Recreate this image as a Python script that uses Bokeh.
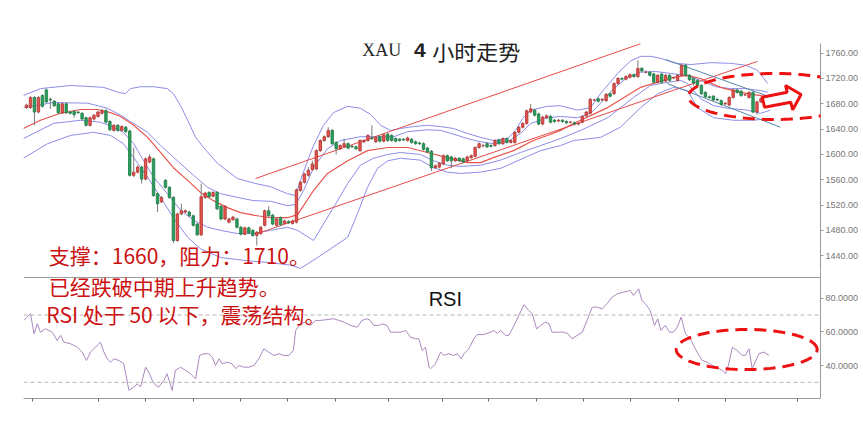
import numpy as np
from bokeh.plotting import figure
from bokeh.layouts import column
from bokeh.models import (Range1d, FixedTicker, NumeralTickFormatter,
                          Label, PolyAnnotation, Span, ColumnDataSource)
from bokeh.embed import file_html
from bokeh.resources import INLINE

# ---------------- data ----------------
opens = [1674,1674,1690,1667,1693,1702,1687,1684,1680,1666,
         1680,1667,1668,1667,1665,1658,1646,1656,1660,1665,
         1669,1652,1638,1646,1638,1643,1637,1567,1572,1580,
         1561,1588,1593,1538,1525,1559,1548,1532,1464,1506,
         1509,1509,1503,1490,1473,1532,1540,1534,1540,1518,
         1498,1493,1497,1498,1485,1474,1484,1480,1472,1475,
         1488,1511,1504,1488,1500,1491,1494,1491,1493,1543,
         1556,1567,1576,1577,1606,1622,1628,1638,1619,1609,
         1612,1617,1613,1612,1606,1620,1622,1626,1620,1628,
         1621,1632,1630,1625,1624,1624,1622,1624,1620,1618,
         1617,1610,1605,1579,1580,1585,1598,1596,1590,1594,
         1593,1590,1595,1597,1611,1614,1617,1614,1614,1623,
         1617,1625,1619,1619,1635,1643,1649,1667,1670,1664,
         1648,1658,1660,1654,1653,1654,1652,1651,1650,1648,
         1651,1661,1665,1686,1688,1686,1685,1696,1696,1712,
         1720,1719,1722,1726,1723,1736,1730,1730,1727,1714,
         1727,1716,1725,1721,1717,1725,1741,1725,1720,1717,
         1709,1698,1691,1692,1687,1685,1680,1678,1690,1702,
         1700,1694,1690,1698,1667,1683,1691]
closes = [1678,1690,1667,1690,1676,1683,1686,1677,1666,1680,
          1666,1665,1663,1666,1656,1646,1658,1662,1667,1669,
          1651,1639,1646,1638,1644,1636,1567,1572,1580,1561,
          1593,1596,1535,1522,1532,1548,1532,1464,1506,1511,
          1511,1503,1488,1473,1533,1539,1533,1540,1514,1498,
          1518,1498,1501,1485,1474,1484,1476,1472,1477,1485,
          1511,1503,1490,1498,1489,1495,1492,1495,1544,1556,
          1569,1575,1585,1606,1622,1628,1638,1617,1609,1614,
          1617,1610,1612,1609,1622,1622,1630,1625,1627,1621,
          1631,1622,1622,1621,1622,1623,1626,1619,1617,1617,
          1608,1604,1579,1582,1586,1598,1590,1590,1594,1590,
          1588,1596,1598,1611,1617,1614,1612,1613,1622,1617,
          1625,1619,1622,1635,1643,1649,1669,1672,1662,1648,
          1659,1661,1651,1652,1654,1652,1650,1651,1648,1649,
          1660,1667,1687,1686,1684,1687,1695,1692,1712,1720,
          1719,1723,1726,1723,1736,1732,1730,1725,1714,1725,
          1714,1725,1717,1721,1725,1741,1725,1718,1713,1709,
          1696,1691,1690,1686,1686,1679,1681,1690,1702,1698,
          1693,1694,1698,1667,1683,1688,1685]
highs = [1680,1692,1692,1692,1695,1704,1690,1686,1682,1682,
         1682,1669,1670,1668,1667,1660,1660,1664,1669,1672,
         1672,1654,1648,1648,1646,1645,1639,1611,1583,1582,
         1595,1600,1595,1540,1534,1561,1550,1534,1508,1522,
         1513,1511,1505,1492,1554,1541,1542,1542,1542,1520,
         1520,1500,1503,1500,1487,1486,1486,1482,1479,1487,
         1513,1518,1506,1500,1502,1497,1496,1497,1546,1558,
         1571,1580,1590,1608,1624,1630,1643,1640,1621,1616,
         1625,1619,1615,1614,1624,1624,1632,1646,1629,1630,
         1633,1634,1632,1627,1626,1626,1628,1626,1622,1620,
         1619,1612,1607,1584,1588,1600,1600,1598,1596,1596,
         1595,1598,1600,1613,1619,1617,1619,1616,1624,1625,
         1627,1627,1624,1637,1645,1651,1671,1680,1672,1666,
         1661,1663,1662,1656,1656,1656,1654,1653,1652,1651,
         1662,1669,1689,1688,1690,1689,1697,1698,1714,1722,
         1722,1725,1728,1728,1749,1738,1733,1732,1729,1727,
         1729,1727,1727,1723,1727,1743,1743,1727,1722,1719,
         1711,1700,1693,1694,1689,1687,1683,1692,1704,1704,
         1702,1696,1700,1700,1685,1690,1693]
lows = [1672,1672,1646,1665,1674,1681,1672,1675,1664,1664,
        1664,1663,1658,1664,1654,1644,1644,1654,1658,1663,
        1649,1637,1636,1636,1636,1634,1565,1564,1570,1554,
        1559,1586,1533,1509,1523,1546,1530,1460,1462,1504,
        1507,1501,1486,1471,1471,1530,1531,1532,1512,1496,
        1496,1491,1495,1483,1472,1472,1474,1470,1456,1473,
        1486,1501,1488,1486,1487,1489,1490,1489,1491,1541,
        1554,1565,1574,1575,1604,1620,1626,1615,1600,1607,
        1610,1608,1610,1607,1604,1618,1620,1623,1618,1619,
        1619,1620,1620,1619,1620,1621,1620,1617,1615,1615,
        1606,1602,1574,1577,1578,1583,1588,1578,1588,1588,
        1586,1588,1593,1595,1609,1611,1610,1611,1612,1615,
        1615,1617,1617,1617,1633,1641,1647,1665,1660,1646,
        1646,1656,1649,1650,1651,1650,1648,1649,1646,1646,
        1649,1659,1663,1684,1682,1684,1683,1690,1694,1710,
        1717,1717,1720,1721,1721,1730,1728,1723,1712,1712,
        1712,1714,1715,1719,1715,1723,1723,1716,1709,1707,
        1694,1689,1688,1684,1684,1677,1678,1676,1688,1696,
        1691,1692,1688,1665,1663,1681,1683]

# Bollinger-style bands and moving average, read at sample candles
ou_x = [-0.8,3.5,11.1,19.4,23.2,24.9,26.2,28.7,32.0,35.5,37.0,38.8,40.6,42.6,44.6,48.1,53.1,57.7,61.5,65.7,
        67.8,69.0,70.8,72.3,74.8,77.3,80.9,84.1,86.7,89.2,91.7,94.2,97.5,101.0,104.3,107.6,111.1,114.4,117.6,121.2,
        123.2,125.0,127.0,131.2,134.5,138.8,142.1,144.6,148.9,152.2,154.7,157.2,159.7,163.5,167.3,172.3,177.3,181.1,184.1,186.7]
ou_y = [1693,1704,1709,1706,1698,1696,1704,1707,1707,1704,1696,1677,1654,1627,1611,1586,1562,1554,1549,1538,
        1535,1559,1590,1614,1646,1666,1676,1673,1663,1646,1638,1641,1644,1646,1644,1641,1633,1627,1622,1625,
        1638,1657,1670,1676,1677,1670,1674,1696,1728,1748,1755,1755,1752,1744,1742,1745,1744,1741,1733,1712]
iu_x = [-0.8,6.8,15.4,20.4,23.7,26.2,30.5,33.8,38.0,42.1,45.6,48.9,53.2,57.2,61.5,65.7,67.8,69.8,72.3,75.8,
        79.1,84.1,89.2,92.5,96.0,101.0,104.3,107.6,111.1,114.4,117.6,121.2,124.4,127.0,131.2,134.5,138.8,142.1,144.6,147.9,
        151.4,154.7,158.5,162.2,166.0,169.8,173.6,177.3,181.1,184.9,186.7]
iu_y = [1674,1682,1681,1673,1662,1652,1635,1614,1590,1567,1548,1538,1532,1527,1526,1519,1521,1543,1579,1609,
        1622,1628,1628,1628,1636,1639,1638,1632,1625,1620,1617,1620,1633,1649,1658,1660,1658,1665,1681,1704,
        1722,1730,1731,1728,1725,1717,1707,1704,1704,1701,1698]
ma_x = [-0.8,3.5,8.6,13.6,17.9,21.2,23.7,27.0,30.5,33.8,37.0,40.6,43.8,47.1,50.6,53.9,57.2,61.5,65.7,68.3,
        72.3,75.8,80.9,85.9,91.0,96.0,101.0,106.0,111.1,114.4,117.6,122.7,127.7,131.2,134.5,137.8,146.4,154.7,163.0,166.5,
        169.8,174.8,179.8,184.9,186.7]
ma_y = [1641,1654,1665,1671,1671,1666,1660,1646,1627,1603,1579,1559,1540,1527,1516,1508,1504,1500,1500,1505,
        1543,1570,1590,1606,1611,1611,1603,1595,1587,1587,1595,1606,1622,1630,1638,1649,1674,1706,1722,1725,
        1720,1706,1698,1693,1690]
il_x = [-0.8,6.8,13.6,18.6,21.9,24.4,27.0,29.5,32.0,35.5,38.8,42.1,45.6,48.9,53.1,57.2,61.5,65.7,68.3,72.3,
        77.3,80.9,84.1,87.4,91.0,94.2,99.2,102.5,106.0,109.3,114.4,119.4,124.4,129.5,134.5,139.6,146.4,152.9,157.2,161.5,
        164.8,166.5,169.8,173.1,176.6,181.6,184.9,187.4]
il_y = [1625,1649,1654,1651,1643,1635,1617,1590,1564,1538,1512,1496,1485,1480,1475,1475,1480,1485,1480,1464,
        1516,1554,1583,1594,1600,1603,1600,1590,1583,1581,1583,1591,1603,1614,1625,1638,1658,1690,1709,1714,
        1717,1712,1688,1677,1673,1670,1665,1670]
ol_x = [-0.8,5.3,11.1,16.9,21.2,24.4,27.0,30.5,33.8,37.0,40.6,43.8,48.9,55.7,61.5,66.5,69.0,73.3,80.9,83.4,
        85.9,88.4,91.0,94.2,99.2,102.5,106.0,109.3,114.4,119.4,122.7,126.2,129.5,134.5,137.8,144.6,149.6,154.7,159.0,163.0,
        166.5,169.0,173.1,178.1,183.1,187.4]
ol_y = [1594,1617,1630,1635,1630,1617,1595,1564,1532,1500,1469,1451,1437,1432,1429,1425,1420,1437,1469,1507,
        1548,1578,1590,1594,1591,1579,1572,1570,1572,1578,1587,1597,1606,1614,1622,1627,1643,1674,1696,1706,
        1701,1674,1658,1654,1654,1657]

# trend lines (endpoints: candle index, price)
trend_up_x = [57.7, 154.7];  trend_up_y = [1562, 1775]
trend_dn_x = [58.2, 184.1];  trend_dn_y = [1475, 1747]
chan_up_x = [161.0, 189.9];  chan_up_y = [1750, 1685]
chan_dn_x = [161.4, 189.9];  chan_dn_y = [1712, 1643]

price_ticks = [1440, 1480, 1520, 1560, 1600, 1640, 1680, 1720, 1760]

# RSI read at sample positions
rsi_x = [-0.7,1.0,1.9,2.7,3.5,4.8,6.5,7.7,8.6,9.4,11.1,12.8,14.0,15.1,16.1,17.4,18.6,19.5,20.3,21.2,
         22.0,23.3,24.5,25.8,27.0,27.9,28.7,30.0,30.8,31.7,32.5,33.3,34.6,35.4,36.7,37.5,38.8,40.1,41.3,42.6,
         43.6,44.7,45.9,46.8,47.6,48.5,49.3,50.6,51.8,52.7,53.5,54.8,56.0,57.3,58.5,59.8,61.0,62.3,63.6,64.8,
         66.1,67.2,67.8,69.0,70.3,71.5,72.8,74.1,77.4,78.7,80.0,81.6,83.3,84.5,85.8,86.6,87.5,88.7,89.6,90.8,
         91.7,92.9,94.2,95.5,96.7,98.0,98.8,99.7,100.5,101.4,101.8,103.0,104.3,105.1,106.4,107.6,108.5,109.5,110.2,111.4,
         112.7,113.5,115.2,116.9,117.7,118.6,119.4,120.7,121.5,122.8,124.0,125.3,126.5,127.4,128.5,129.5,130.7,131.6,132.4,133.7,
         135.3,136.4,137.4,138.7,140.0,141.2,142.5,143.7,145.0,146.2,147.5,148.8,150.4,152.1,152.9,154.2,155.0,155.9,157.1,158.2,
         159.0,159.8,160.9,162.0,163.0,163.9,164.9,166.0,167.2,168.9,170.2,171.5,172.7,174.0,175.2,176.1,176.9,177.8,179.0,180.3,
         181.1,182.0,182.8,183.7,184.5,185.7,187.0]
rsi_v = [66.8,70.7,58.8,64.8,59.8,61.8,59.8,54.9,57.9,53.9,52.9,50.9,48.0,43.0,48.0,50.9,53.9,48.0,44.0,42.0,
         44.0,43.0,41.0,25.2,27.2,29.1,27.2,39.0,36.1,31.1,28.2,27.2,31.1,35.1,25.2,37.1,39.0,37.1,35.1,32.1,
         46.0,47.0,47.0,45.0,40.0,44.0,41.0,42.0,41.0,38.1,40.0,39.0,39.0,40.0,44.0,49.9,48.0,46.0,47.0,46.0,
         46.0,48.9,60.8,64.8,65.8,63.8,66.8,66.8,67.8,66.8,65.8,63.8,62.8,66.8,67.8,66.8,63.8,63.8,64.8,63.8,
         59.8,59.8,59.8,60.8,56.9,55.9,55.9,48.9,50.9,39.0,38.1,41.0,48.0,46.0,47.0,46.0,47.0,44.0,47.0,49.9,
         55.9,58.4,58.4,59.8,60.8,59.2,60.8,57.9,57.9,63.8,69.7,76.1,72.7,70.7,61.8,63.8,65.8,64.8,59.8,59.8,
         59.8,58.8,55.9,57.9,59.8,66.8,74.7,74.7,73.7,76.7,80.6,82.6,83.6,84.6,81.6,85.6,78.6,76.7,72.7,63.8,
         67.8,60.8,63.8,59.8,59.8,62.8,68.7,58.8,55.9,48.0,43.0,42.0,40.0,39.0,37.1,35.1,41.0,50.9,48.9,46.0,
         46.0,49.9,38.1,43.0,47.0,48.0,46.0]
rsi_levels = [30, 70]
rsi_ticks = [40, 60, 80]
rsi_panel_top = 92.3
time_ticks = [1.5, 18.1, 30.0, 42.1, 53.9, 65.8, 77.8, 91.2, 104.8, 116.4,
              128.5, 140.3, 152.1, 164.2, 176.1, 194.2]

# annotation geometry
ell_price = dict(cx=188.4, cy=1691.6, w=43.3, h=72.7)
ell_rsi = dict(cx=181.4, cy=49.5, w=35.5, h=23.8)
arrow_x = [185.3, 191.6, 191.2, 195.1, 193.0, 192.5, 185.9]
arrow_y = [1690.5, 1698.4, 1709.0, 1694.8, 1670.6, 1682.6, 1674.7]

# ---------------- styles ----------------
UP_FILL, UP_LINE = "#e05550", "#b5302c"
DN_FILL, DN_LINE = "#2a9f5c", "#1b7a42"
BAND = "#8c8ce8"
MA = "#e8554d"
TREND = "#e24a4a"
CHAN = "#5a86aa"
TXT_RED = "#cc1111"
ELL_RED = "#ee1111"
AX = "#9a9a9a"
LAB = "#777777"
CJK = "Noto Sans CJK SC"

idx = list(range(len(opens)))
up = [i for i in idx if closes[i] >= opens[i]]
dn = [i for i in idx if closes[i] < opens[i]]

p = figure(frame_width=797, frame_height=227,
           x_range=Range1d(-0.76, 200.0), y_range=Range1d(1416.6, 1775.3),
           output_backend="svg", toolbar_location=None,
           x_axis_location=None, y_axis_location="right",
           min_border_left=23, min_border_top=43, min_border_bottom=0, min_border_right=5,
           outline_line_color=None, background_fill_color="white", border_fill_color="white")
p.grid.visible = False

def style_right_axis(ax, ticks, fmt):
    ax.ticker = FixedTicker(ticks=ticks)
    ax.formatter = NumeralTickFormatter(format=fmt)
    ax.major_label_text_font_size = "9px"
    ax.major_label_text_color = LAB
    ax.major_label_text_font = "Liberation Sans"
    ax.axis_line_color = AX
    ax.major_tick_line_color = AX
    ax.major_tick_in = 0
    ax.major_tick_out = 3
    ax.minor_tick_line_color = None
    ax.major_label_standoff = 2

style_right_axis(p.yaxis[0], price_ticks, "0.00")

# bands
for xs, ys in [(ou_x, ou_y), (iu_x, iu_y), (il_x, il_y), (ol_x, ol_y)]:
    p.line(xs, ys, line_color=BAND, line_width=1)
p.line(ma_x, ma_y, line_color=MA, line_width=1.2)
p.line(trend_up_x, trend_up_y, line_color=TREND, line_width=1)
p.line(trend_dn_x, trend_dn_y, line_color=TREND, line_width=1)
p.line(chan_up_x, chan_up_y, line_color=CHAN, line_width=1)
p.line(chan_dn_x, chan_dn_y, line_color=CHAN, line_width=1)

# candles
src_up = ColumnDataSource(dict(x=up, top=[closes[i] for i in up], bottom=[opens[i] for i in up],
                               hi=[highs[i] for i in up], lo=[lows[i] for i in up]))
src_dn = ColumnDataSource(dict(x=dn, top=[opens[i] for i in dn], bottom=[closes[i] for i in dn],
                               hi=[highs[i] for i in dn], lo=[lows[i] for i in dn]))
for src, fc, lc in [(src_up, UP_FILL, UP_LINE), (src_dn, DN_FILL, DN_LINE)]:
    p.segment(x0="x", y0="lo", x1="x", y1="hi", source=src, line_color="#7a7a7a", line_width=1)
    p.vbar(x="x", width=0.62, top="top", bottom="bottom", source=src,
           fill_color=fc, line_color=lc, line_width=0.8)

# arrow and ellipse
p.patch(arrow_x, arrow_y, fill_color="white", line_color=ELL_RED, line_width=3)
t = np.linspace(0, 2 * np.pi, 160)
p.add_layout(PolyAnnotation(
    xs=list(ell_price["cx"] + ell_price["w"] / 2 * np.cos(t)),
    ys=list(ell_price["cy"] + ell_price["h"] / 2 * np.sin(t)),
    fill_color=None, fill_alpha=0, line_color=ELL_RED, line_alpha=1.0,
    line_width=3, line_dash="12 7"))

# title
title_y = 1765.0
p.add_layout(Label(x=84.6, y=title_y, text="XAU", text_font="Liberation Serif",
                   text_font_size="18px", text_color="#222222", text_baseline="middle"))
p.add_layout(Label(x=97.6, y=title_y, text="4", text_font="Liberation Sans",
                   text_font_size="21px", text_font_style="bold", text_color="#222222",
                   text_baseline="middle"))
p.add_layout(Label(x=102.2, y=title_y, text="小时走势", text_font=CJK,
                   text_font_size="22px", text_color="#222222", text_baseline="middle"))

p.add_layout(Label(x=5.6, y=1441.2, text="支撑：1660，阻力：1710。", text_font=CJK,
                   text_font_size="21px", text_color=TXT_RED, text_baseline="middle"))

# ---------------- RSI panel ----------------
r = figure(frame_width=797, frame_height=128,
           x_range=p.x_range, y_range=Range1d(20.4, 96.46),
           output_backend="svg", toolbar_location=None,
           y_axis_location="right",
           min_border_left=23, min_border_top=0, min_border_bottom=12, min_border_right=5,
           outline_line_color=None, background_fill_color="white", border_fill_color="white")
r.grid.visible = False

style_right_axis(r.yaxis[0], rsi_ticks, "0.0000")

rx = r.xaxis[0]
rx.ticker = FixedTicker(ticks=time_ticks)
rx.major_label_text_font_size = "1px"
rx.major_label_text_color = None
rx.major_label_standoff = 0
rx.axis_line_color = AX
rx.major_tick_line_color = "#666666"
rx.major_tick_in = 0
rx.major_tick_out = 3
rx.minor_tick_line_color = None

# separator between the two panels
r.add_layout(Span(location=rsi_panel_top, dimension="width", line_color=AX, line_width=1))

for lvl in rsi_levels:
    r.add_layout(Span(location=lvl, dimension="width", line_color="#b4b4b4",
                      line_dash="4 3", line_width=1))

r.line(rsi_x, rsi_v, line_color="#ab88bf", line_width=1)

r.add_layout(PolyAnnotation(
    xs=list(ell_rsi["cx"] + ell_rsi["w"] / 2 * np.cos(t)),
    ys=list(ell_rsi["cy"] + ell_rsi["h"] / 2 * np.sin(t)),
    fill_color=None, fill_alpha=0, line_color=ELL_RED, line_alpha=1.0,
    line_width=3, line_dash="12 7"))

r.add_layout(Label(x=101.3, y=79.8, text="RSI", text_font="Liberation Sans",
                   text_font_size="20px", text_color="#111111", text_baseline="middle"))
r.add_layout(Label(x=5.6, y=87.1, text="已经跌破中期上升趋势。", text_font=CJK,
                   text_font_size="21px", text_color=TXT_RED, text_baseline="middle"))
r.add_layout(Label(x=5.0, y=70.9, text="RSI 处于 50 以下，震荡结构。", text_font=CJK,
                   text_font_size="21px", text_color=TXT_RED, text_baseline="middle"))

layout = column(p, r, spacing=0)
open("out.html", "w").write(file_html(layout, INLINE))
